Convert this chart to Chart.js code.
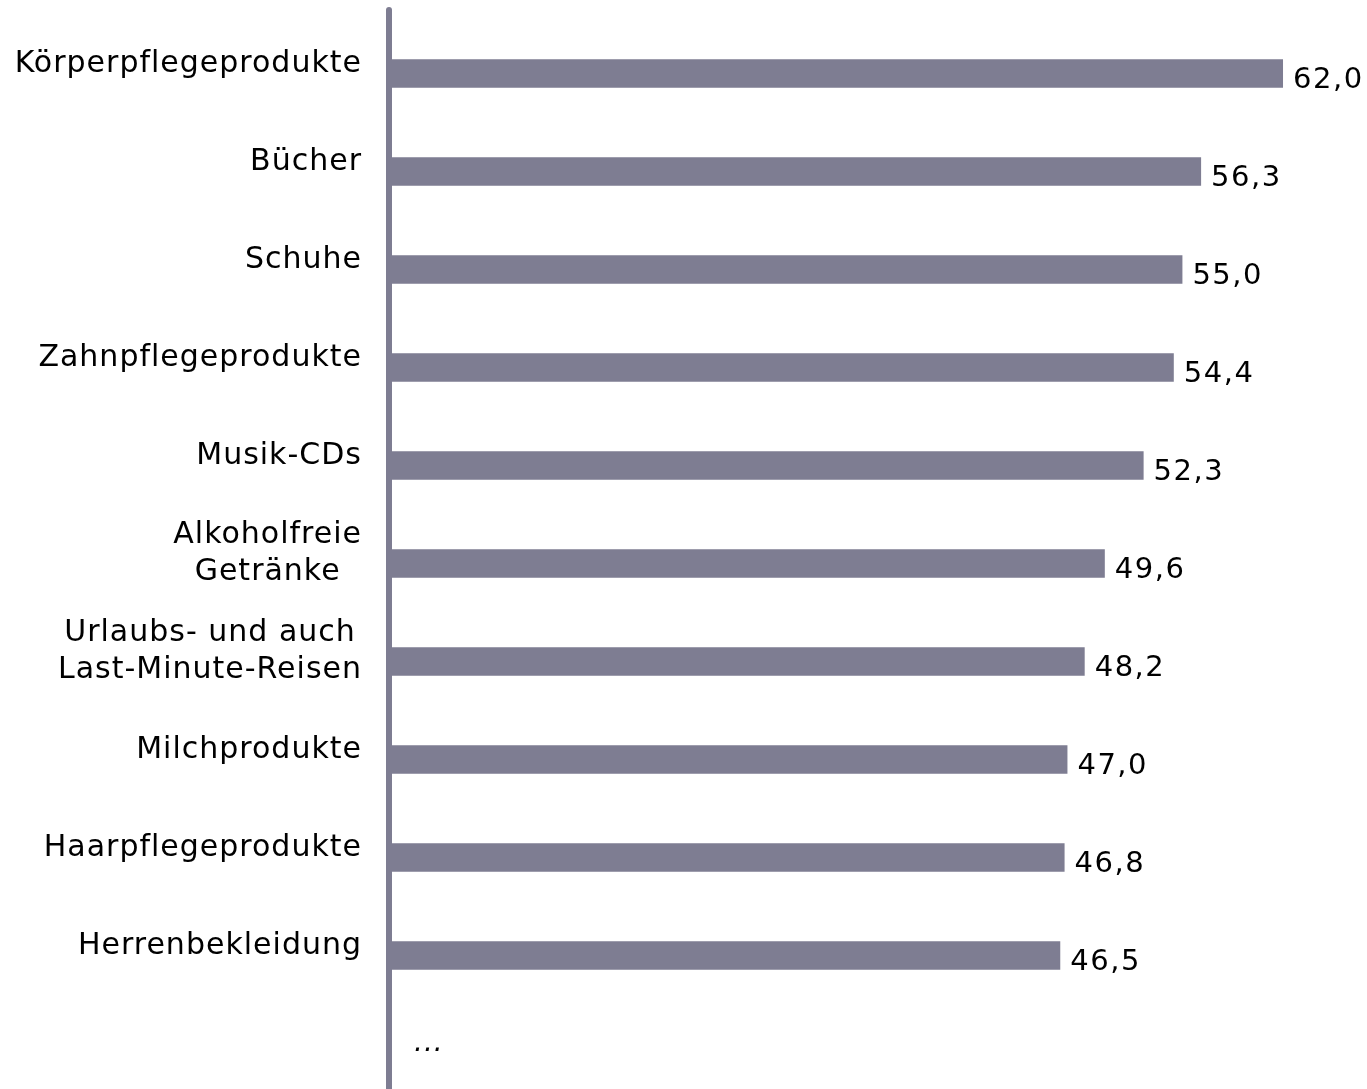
<!DOCTYPE html>
<html lang="de">
<head>
<meta charset="utf-8">
<title>Produktgruppen</title>
<script src="https://cdn.jsdelivr.net/npm/chart.js@4/dist/chart.umd.min.js"></script>
<style>
    html, body { margin: 0; padding: 0; background: #fff; overflow: hidden; }
    canvas { display: block; }
</style>
</head>
<body>
<canvas id="barChart" width="1367" height="1089"></canvas>
<script>
// Chart data
const categories = [
    'Körperpflegeprodukte',
    'Bücher',
    'Schuhe',
    'Zahnpflegeprodukte',
    'Musik-CDs',
    ['Alkoholfreie', 'Getränke'],
    ['Urlaubs- und auch', 'Last-Minute-Reisen'],
    'Milchprodukte',
    'Haarpflegeprodukte',
    'Herrenbekleidung'
];
const values = [62.0, 56.3, 55.0, 54.4, 52.3, 49.6, 48.2, 47.0, 46.8, 46.5];
const moreLabel = '...';

const barColor = '#7e7d92';
const textColor = '#000000';
const fontFamily = '"DejaVu Sans", Verdana, sans-serif';

function formatValue(v) {
    return v.toFixed(1).replace('.', ',');
}

// Category labels: block right-aligned, lines centered inside the block
const categoryLabels = {
    id: 'categoryLabels',
    afterDatasetsDraw(chart) {
        const ctx = chart.ctx;
        const yScale = chart.scales.y;
        const slot = yScale.getPixelForValue(1) - yScale.getPixelForValue(0);
        ctx.save();
        ctx.font = '30px ' + fontFamily;
        ctx.letterSpacing = '1px';
        ctx.fillStyle = textColor;
        ctx.textAlign = 'center';
        ctx.textBaseline = 'alphabetic';
        categories.forEach((lbl, i) => {
            const lines = Array.isArray(lbl) ? lbl : [lbl];
            const blockW = Math.max(...lines.map(l => ctx.measureText(l).width));
            const cx = 362 - blockW / 2;
            const yc = yScale.getPixelForValue(i) - 13;
            lines.forEach((l, j) => {
                const by = yc + (j - (lines.length - 1) / 2) * 37 + 11;
                ctx.fillText(l, cx, by);
            });
        });

        // trailing "..." in the next free slot
        const lastY = yScale.getPixelForValue(categories.length - 1);
        ctx.font = 'italic 28px ' + fontFamily;
        ctx.textAlign = 'left';
        ctx.fillText(moreLabel, chart.chartArea.left + 22, lastY + slot - 3);
        ctx.restore();
    }
};

// Value labels to the right of each bar
const valueLabels = {
    id: 'valueLabels',
    afterDatasetsDraw(chart) {
        const ctx = chart.ctx;
        const meta = chart.getDatasetMeta(0);
        ctx.save();
        ctx.font = '29px ' + fontFamily;
        ctx.letterSpacing = '1.5px';
        ctx.fillStyle = textColor;
        ctx.textAlign = 'left';
        ctx.textBaseline = 'alphabetic';
        meta.data.forEach((bar, i) => {
            ctx.fillText(formatValue(values[i]), bar.x + 10, bar.y + 14);
        });
        ctx.restore();
    }
};

// Vertical axis line with rounded top
const axisLine = {
    id: 'axisLine',
    afterDatasetsDraw(chart) {
        const ctx = chart.ctx;
        const x = chart.chartArea.left - 3;
        ctx.save();
        ctx.strokeStyle = barColor;
        ctx.lineWidth = 6;
        ctx.lineCap = 'round';
        ctx.beginPath();
        ctx.moveTo(x, 10);
        ctx.lineTo(x, chart.height + 10);
        ctx.stroke();
        ctx.restore();
    }
};

const ctx = document.getElementById('barChart').getContext('2d');
const barChart = new Chart(ctx, {
    type: 'bar',
    data: {
        labels: categories,
        datasets: [{
            data: values,
            backgroundColor: barColor,
            borderWidth: 0,
            barPercentage: 0.29,
            categoryPercentage: 1.0
        }]
    },
    options: {
        indexAxis: 'y',
        responsive: false,
        animation: false,
        devicePixelRatio: 1,
        layout: {
            padding: { left: 392, right: 15, top: 24.5, bottom: 84.5 }
        },
        scales: {
            x: {
                display: false,
                min: 0,
                max: 66.8
            },
            y: {
                display: false
            }
        },
        plugins: {
            legend: { display: false },
            tooltip: { enabled: false }
        }
    },
    plugins: [axisLine, categoryLabels, valueLabels]
});
</script>
</body>
</html>
